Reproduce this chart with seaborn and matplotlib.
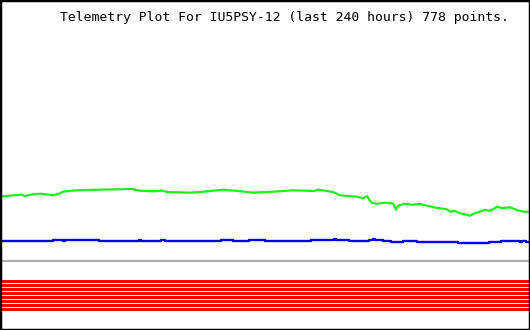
import matplotlib
matplotlib.use("Agg")
import matplotlib.pyplot as plt
import seaborn as sns
import pandas as pd

# Time in hours (last 240 hours)
green_hours = [0, 4.1, 10.0, 11.3, 14.9, 18.6, 24.0, 27.2, 28.5, 32.6, 34.9, 44.8, 59.8, 63.4,
               69.3, 73.8, 75.6, 86.0, 90.6, 101.0, 109.6, 114.6, 123.2, 132.7, 142.2, 144.0,
               146.3, 150.8, 154.0, 161.7, 164.4, 166.2, 167.5, 168.5, 170.7, 174.3, 178.0,
               179.3, 180.2, 183.4, 186.6, 190.2, 194.7, 197.4, 202.4, 203.8, 206.0, 208.3,
               210.6, 212.8, 214.2, 216.5, 219.6, 221.9, 225.1, 227.4, 231.0, 234.1, 236.9, 240.0]
green_values = [133.3, 134.3, 135.3, 134.0, 135.7, 136.3, 134.7, 136.7, 138.3, 139.3, 139.7,
                140.3, 141.0, 139.3, 138.7, 139.3, 138.0, 137.3, 138.0, 140.3, 138.7, 137.3,
                138.3, 139.7, 139.0, 140.3, 139.7, 138.0, 134.7, 133.3, 131.7, 134.0, 129.3,
                127.0, 126.3, 127.3, 126.5, 120.3, 124.3, 126.3, 125.3, 126.0, 123.7, 122.3,
                120.7, 118.3, 119.0, 116.7, 115.7, 114.3, 116.0, 117.7, 120.3, 119.0, 123.3,
                122.0, 122.7, 120.0, 118.3, 118.3]

blue_hours = [0, 24.0, 28.5, 29.4, 44.8, 62.9, 63.8, 72.9, 74.7, 100.1, 101.9, 105.5, 112.7,
              120.0, 140.8, 151.2, 152.1, 158.0, 167.1, 168.9, 169.8, 173.4, 177.0, 182.5,
              188.8, 207.4, 221.4, 226.8, 235.5, 236.3, 238.2, 240.0]
blue_values = [89.3, 90.0, 89.3, 90.0, 89.3, 90.0, 89.3, 90.0, 89.3, 90.0, 90.3, 89.3, 90.0,
               89.3, 90.0, 91.0, 90.0, 89.3, 90.3, 91.0, 90.0, 89.3, 88.3, 89.3, 88.3, 87.3,
               88.3, 89.3, 88.3, 89.3, 88.3, 88.3]

span_hours = [0, 240]
gray_level = 69.5
bit_levels = [48.5, 44.5, 40.5, 36.5, 32.5, 28.5, 24.5, 20.5]

title = "Telemetry Plot For IU5PSY-12 (last 240 hours) 778 points."

sns.set_theme(style="white")
fig = plt.figure(figsize=(5.3, 3.3), dpi=100)
ax = fig.add_axes([0, 0, 1, 1])

for lvl in bit_levels:
    sns.lineplot(x=span_hours, y=[lvl, lvl], ax=ax, color="#ff0000", linewidth=2.16,
                 snap=False, solid_capstyle="butt")
sns.lineplot(x=span_hours, y=[gray_level, gray_level], ax=ax, color="#aaaaaa", linewidth=1.5)
sns.lineplot(data=pd.DataFrame({"h": blue_hours, "v": blue_values}), x="h", y="v", ax=ax,
             color="#0000ee", linewidth=1.7, drawstyle="steps-post")
sns.lineplot(data=pd.DataFrame({"h": green_hours, "v": green_values}), x="h", y="v", ax=ax,
             color="#22ee22", linewidth=1.6)

ax.set_xlim(0, 240)
ax.set_ylim(0, 330)
ax.set_xticks([])
ax.set_yticks([])
ax.set_xlabel("")
ax.set_ylabel("")
for s in ax.spines.values():
    s.set_visible(True)
    s.set_color("black")
    s.set_linewidth(2.5)

fig.text(60 / 530, 1 - 17 / 330, title, ha="left", va="center",
         family="DejaVu Sans Mono", fontsize=9.45, color="black")

fig.savefig("out.png", dpi=100)
